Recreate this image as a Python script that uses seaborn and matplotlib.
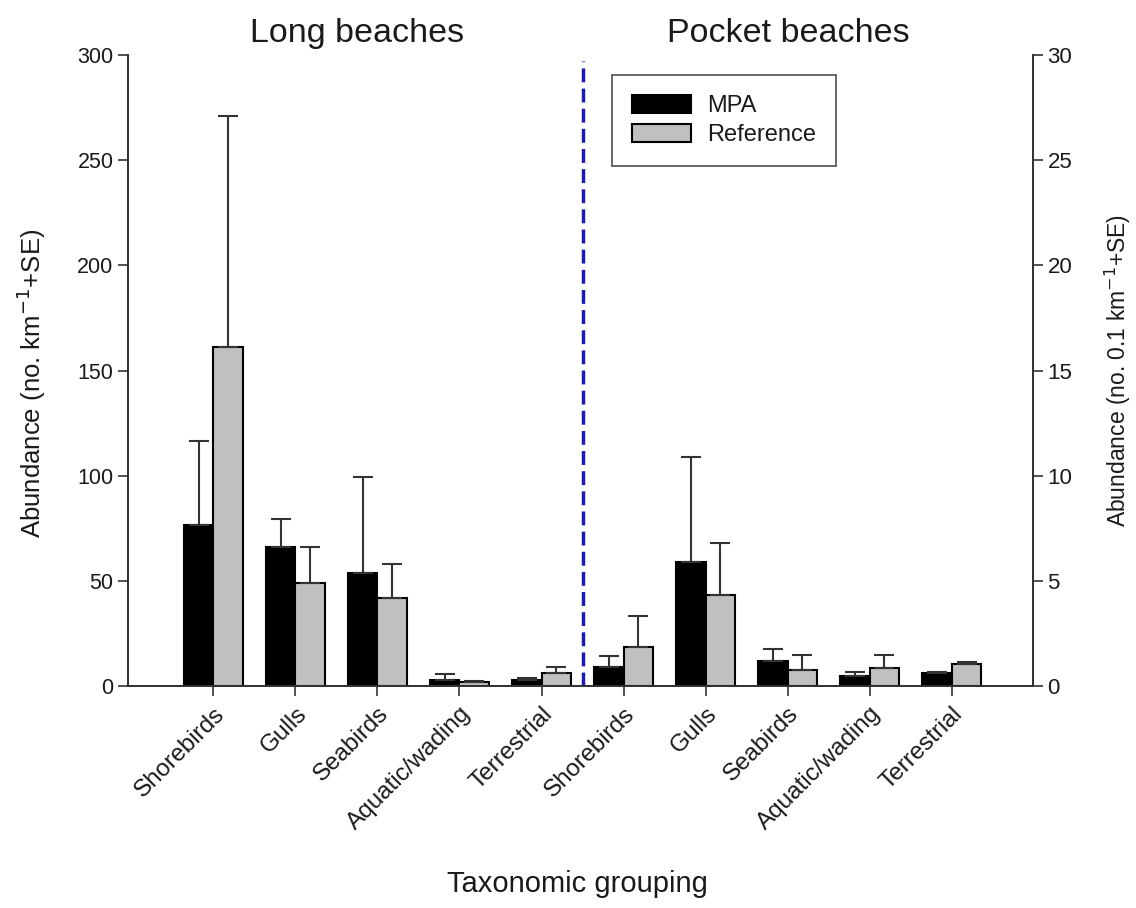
import numpy as np
import pandas as pd
import matplotlib
matplotlib.use('Agg')
import matplotlib.pyplot as plt
import seaborn as sns

# ── Data ──────────────────────────────────────────────
groups = ['Shorebirds', 'Gulls', 'Seabirds', 'Aquatic/wading', 'Terrestrial']
sites = ['MPA', 'Reference']

# long beaches (no. km-1, left axis)
long_mpa = [76.5, 66.0, 53.7, 3.0, 3.0]
long_mpa_se = [40.0, 13.4, 45.7, 2.7, 0.8]
long_ref = [161.0, 49.0, 41.8, 2.0, 6.2]
long_ref_se = [110.0, 17.0, 16.2, 0.5, 2.8]

# pocket beaches (no. 0.1 km-1, right axis)
pocket_mpa = [0.90, 5.90, 1.19, 0.48, 0.62]
pocket_mpa_se = [0.53, 5.00, 0.57, 0.19, 0.03]
pocket_ref = [1.85, 4.33, 0.76, 0.86, 1.05]
pocket_ref_se = [1.48, 2.47, 0.71, 0.61, 0.07]

long_keys = ['L ' + g for g in groups]
pocket_keys = ['P ' + g for g in groups]
order = long_keys + pocket_keys

long_df = pd.DataFrame({
    'key': long_keys * 2,
    'site': ['MPA'] * 5 + ['Reference'] * 5,
    'value': long_mpa + long_ref,
    'se': long_mpa_se + long_ref_se,
})
pocket_df = pd.DataFrame({
    'key': pocket_keys * 2,
    'site': ['MPA'] * 5 + ['Reference'] * 5,
    'value': pocket_mpa + pocket_ref,
    'se': pocket_mpa_se + pocket_ref_se,
})

# ── Style ─────────────────────────────────────────────
sns.set_style('ticks')
plt.rcParams['font.family'] = ['Liberation Sans', 'DejaVu Sans']
plt.rcParams['text.color'] = '#1a1a1a'
plt.rcParams['axes.labelcolor'] = '#1a1a1a'
plt.rcParams['xtick.color'] = '#1a1a1a'
plt.rcParams['ytick.color'] = '#1a1a1a'
palette = {'MPA': '#000000', 'Reference': '#c0c0c0'}

fig = plt.figure(figsize=(11.36, 9.08), dpi=100)
ax = fig.add_axes([0.1127, 0.2445, 0.7966, 0.6949])
ax2 = ax.twinx()


def draw(df, axis):
    sns.barplot(data=df, x='key', y='value', hue='site', order=order,
                hue_order=sites, palette=palette, width=0.72,
                edgecolor='black', linewidth=1.5, errorbar=None,
                ax=axis, legend=(axis is ax))
    # +SE error bars on top of each bar
    for cont, site in zip(axis.containers, sites):
        sub = df[df['site'] == site]
        bars = [b for b in cont if b.get_height() > 0]
        xs = [b.get_x() + b.get_width() / 2 for b in bars]
        axis.errorbar(xs, sub['value'].values,
                      yerr=[np.zeros(len(sub)), sub['se'].values],
                      fmt='none', ecolor='#333333', elinewidth=1.5,
                      capsize=7, capthick=1.5, zorder=1)


draw(long_df, ax)
draw(pocket_df, ax2)

ax.set_xlim(-1.04, 9.99)
ax.set_ylim(0, 300)
ax2.set_ylim(0, 30)
ax.set_yticks(range(0, 301, 50))
ax2.set_yticks(range(0, 31, 5))

ax.set_xticks(range(10))
ax.set_xticklabels(groups + groups, rotation=45, ha='right',
                   rotation_mode='anchor', fontsize=17.5)
ax.tick_params(axis='y', direction='out', length=7, width=1.2,
               labelsize=15.5, color='#333333')
ax.tick_params(axis='x', direction='out', length=7, width=1.2,
               color='#333333', pad=5)
ax2.tick_params(axis='y', direction='out', length=7, width=1.2,
                labelsize=16, color='#333333')

for a in (ax, ax2):
    a.spines['top'].set_visible(False)
    for s in ('left', 'right', 'bottom'):
        a.spines[s].set_linewidth(1.3)
        a.spines[s].set_color('#333333')

ax.set_xlabel('Taxonomic grouping', fontsize=21)
ax.xaxis.set_label_coords(0.497, -0.292)
ax.set_ylabel('Abundance (no. km$^{-1}$+SE)', fontsize=18.5)
ax.yaxis.set_label_coords(-0.088, 0.48)
ax2.set_ylabel('Abundance (no. 0.1 km$^{-1}$+SE)', fontsize=16.5, labelpad=22)

# separator between beach types
ax.axvline(4.5, ymax=0.99, color='#1c1ca6', linestyle=(0, (4, 1.8)),
           linewidth=2.5, zorder=0)

fig.text(0.314, 0.963, 'Long beaches', fontsize=24.5, ha='center', va='center')
fig.text(0.694, 0.963, 'Pocket beaches', fontsize=24.5, ha='center', va='center')

leg = ax.legend(loc='upper left', bbox_to_anchor=(0.522, 0.987),
                fontsize=17, frameon=True, fancybox=False, edgecolor='#333333',
                handlelength=2.5, handleheight=0.75, handletextpad=0.65,
                borderpad=0.85, labelspacing=0.3, title=None)
leg.get_frame().set_linewidth(1.3)

fig.savefig('out.png', dpi=100)
